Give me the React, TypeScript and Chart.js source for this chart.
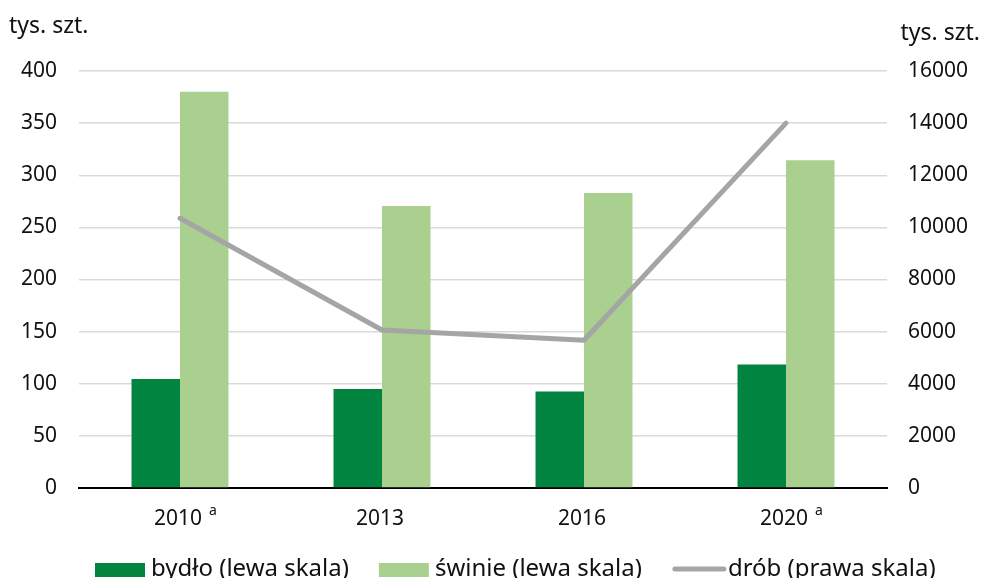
import React, { useEffect, useRef } from "react";
import { Chart, registerables } from "chart.js";

Chart.register(...registerables);

const categories = ["2010", "2013", "2016", "2020"];
const footnotes = ["a", "", "", "a"];
const bydlo = [104.5, 95, 92.5, 118.5];
const swinie = [380, 270.5, 283, 314.5];
const drob = [10350, 6060, 5670, 14000];
const unitLabel = "tys. szt.";
const seriesLabels = ["bydło (lewa skala)", "świnie (lewa skala)", "drób (prawa skala)"];

const FONT = '"Noto Sans", Roboto, "DejaVu Sans", sans-serif';
const DARK = "#00843f";
const LIGHT = "#a9d08e";
const GREY = "#a5a5a5";
const TEXT = "#111";

const extras = {
  id: "extras",
  afterDraw(chart: any) {
    const ctx = chart.ctx;
    ctx.save();
    ctx.fillStyle = TEXT;
    // unit titles
    ctx.font = `23px ${FONT}`;
    ctx.textBaseline = "alphabetic";
    ctx.textAlign = "left";
    ctx.fillText(unitLabel, 9, 33);
    ctx.textAlign = "right";
    ctx.fillText(unitLabel, 980, 40);

    // x category labels with superscript footnotes
    const xs = chart.scales.x;
    categories.forEach((c, i) => {
      const cx = xs.getPixelForValue(i) - 2;
      ctx.font = `21px ${FONT}`;
      ctx.textAlign = "center";
      ctx.fillStyle = TEXT;
      ctx.fillText(c, cx, 525);
      const w = ctx.measureText(c).width;
      if (footnotes[i]) {
        ctx.font = `14px ${FONT}`;
        ctx.textAlign = "left";
        ctx.fillText(footnotes[i], cx + w / 2 + 7, 515);
      }
    });

    // legend
    ctx.font = `24px ${FONT}`;
    ctx.textAlign = "left";
    ctx.textBaseline = "alphabetic";
    let x = 95;
    chart.data.datasets.forEach((ds: any) => {
      if (ds.type === "line") {
        ctx.strokeStyle = ds.borderColor;
        ctx.lineWidth = 5;
        ctx.lineCap = "round";
        ctx.beginPath();
        ctx.moveTo(x + 3, 569);
        ctx.lineTo(x + 52, 569);
        ctx.stroke();
      } else {
        ctx.fillStyle = ds.backgroundColor;
        ctx.fillRect(x, 563, 50, 14);
      }
      x += 56;
      ctx.fillStyle = TEXT;
      ctx.fillText(ds.label, x, 576);
      x += ctx.measureText(ds.label).width + 30;
    });
    ctx.restore();
  },
};

export default function App() {
  const ref = useRef<HTMLCanvasElement>(null);
  useEffect(() => {
    if (!ref.current) return;
    const chart = new Chart(ref.current, {
      type: "bar",
      data: {
        labels: categories,
        datasets: [
          {
            type: "bar",
            label: seriesLabels[0],
            data: bydlo,
            backgroundColor: DARK,
            yAxisID: "y",
            order: 1,
            barPercentage: 1,
            categoryPercentage: 0.48,
          },
          {
            type: "bar",
            label: seriesLabels[1],
            data: swinie,
            backgroundColor: LIGHT,
            yAxisID: "y",
            order: 1,
            barPercentage: 1,
            categoryPercentage: 0.48,
          },
          {
            type: "line",
            label: seriesLabels[2],
            data: drob,
            borderColor: GREY,
            backgroundColor: GREY,
            borderWidth: 5,
            borderCapStyle: "round",
            borderJoinStyle: "round",
            pointRadius: 0,
            tension: 0,
            yAxisID: "y1",
            order: 0,
          } as any,
        ],
      },
      options: {
        responsive: false,
        animation: false,
        layout: { padding: { top: 71, left: 0, right: 0, bottom: 0 } },
        plugins: {
          legend: { display: false },
          tooltip: { enabled: false },
        },
        scales: {
          x: {
            grid: { display: false, drawTicks: false },
            border: { display: true, color: "#000", width: 2 },
            ticks: { display: false },
            afterFit: (s: any) => {
              s.height = 90;
            },
          },
          y: {
            position: "left",
            min: 0,
            max: 400,
            ticks: {
              stepSize: 50,
              color: TEXT,
              font: { family: FONT, size: 21 },
              padding: 22,
            },
            grid: { color: "#d9d9d9", lineWidth: 1.5, drawTicks: false },
            border: { display: false },
            afterFit: (s: any) => {
              s.width = 79;
            },
          },
          y1: {
            position: "right",
            min: 0,
            max: 16000,
            ticks: {
              stepSize: 2000,
              color: TEXT,
              font: { family: FONT, size: 21 },
              padding: 21,
              callback: (v: any) => String(v),
            },
            grid: { display: false, drawTicks: false },
            border: { display: false },
            afterFit: (s: any) => {
              s.width = 94;
            },
          },
        },
      },
      plugins: [extras],
    });
    return () => chart.destroy();
  }, []);
  return (
    <div style={{ position: "absolute", left: 0, top: 0, width: 981, height: 578, background: "#fff" }}>
      <canvas ref={ref} width={981} height={578} style={{ display: "block" }} />
    </div>
  );
}
